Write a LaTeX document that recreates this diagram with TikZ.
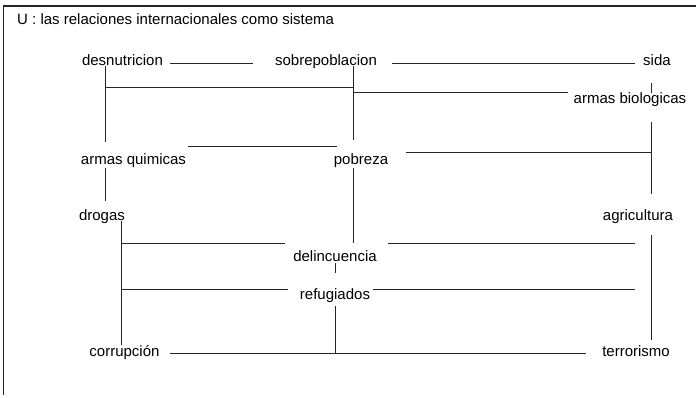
\documentclass[tikz,border=0pt]{standalone}
\usepackage{fontspec}
\setmainfont{Liberation Sans}
\usepackage{tikz}
\usetikzlibrary{calc}

\begin{document}
\begin{tikzpicture}[x=1pt, y=-1pt,
		lbl/.style={inner sep=0pt, anchor=base, font=\fontsize{15}{18}\selectfont},
		conn/.style={line width=0.9pt, color=black!85}]
			%%%%% START %%%%%
			
			\useasboundingbox (0, 0) rectangle (696, 398);
			
			\draw[line width=1.5pt, color=black!85] (3, 6) -- (696, 6);
			\draw[line width=1pt, color=black!85] (3, 6) -- (3, 395);
			
			\node[lbl, anchor=base west] (titulo) at (17, 25) {U : las relaciones internacionales como sistema};
			
			\node[lbl] (desnutricion) at (122.5, 66) {desnutricion};
			\node[lbl] (sobrepoblacion) at (326, 66) {sobrepoblacion};
			\node[lbl] (sida) at (657, 66) {sida};
			\node[lbl] (armasbiologicas) at (630, 104) {armas biologicas};
			\node[lbl] (armasquimicas) at (133.5, 165) {armas quimicas};
			\node[lbl] (pobreza) at (361, 165) {pobreza};
			\node[lbl] (drogas) at (102, 221) {drogas};
			\node[lbl] (agricultura) at (638, 221) {agricultura};
			\node[lbl] (delincuencia) at (335, 261) {delincuencia};
			\node[lbl] (refugiados) at (335, 299) {refugiados};
			\node[lbl] (corrupcion) at (124.5, 356) {corrupción};
			\node[lbl] (terrorismo) at (636, 356) {terrorismo};
			
			\coordinate (colA) at (105, 0);
			\coordinate (colB) at (121, 0);
			\coordinate (colC) at (353, 0);
			\coordinate (colD) at (651, 0);
			\coordinate (colE) at (335, 0);
			\coordinate (colF) at (635, 0);
			\coordinate (rowA) at (0, 87);
			\coordinate (rowB) at (0, 92);
			\coordinate (rowC) at (0, 146);
			\coordinate (rowD) at (0, 152);
			\coordinate (rowE) at (0, 243.5);
			\coordinate (rowF) at (0, 289);
			
			\draw[conn, shorten <=7pt, shorten >=22pt] (desnutricion.mid east) -- (sobrepoblacion.mid west);
			\draw[conn, shorten <=15pt, shorten >=8pt] (sobrepoblacion.mid east) -- (sida.mid west);
			
			\draw[conn, shorten >=12pt] (desnutricion.base -| colA) -- (armasquimicas.north -| colA);
			\draw[conn] (colA |- rowA) -- (colC |- rowA);
			\draw[conn, shorten >=14pt] (sobrepoblacion.base -| colC) -- (pobreza.north -| colC);
			\draw[conn] (colC |- rowB) -- ([xshift=-6pt]armasbiologicas.west |- rowB);
			
			\draw[conn, shorten <=17pt] (sida.south -| colD) -- (armasbiologicas.north -| colD);
			\draw[conn, shorten <=15pt, shorten >=16pt] (armasbiologicas.south -| colD) -- (agricultura.north -| colD);
			
			\draw[conn] ([xshift=2pt]armasquimicas.east |- rowC) -- ([xshift=3pt]pobreza.west |- rowC);
			\draw[conn] ([xshift=18pt]pobreza.east |- rowD) -- (colD |- rowD);
			\draw[conn, shorten <=3pt, shorten >=7pt] (pobreza.base -| colC) -- (delincuencia.north -| colC);
			
			\draw[conn, shorten <=3pt, shorten >=9pt] (armasquimicas.base -| colA) -- (drogas.north -| colA);
			\draw[conn] (drogas.base -| colB) -- (corrupcion.north -| colB);
			
			\draw[conn] (colB |- rowE) -- ([xshift=-8pt]delincuencia.west |- rowE);
			\draw[conn] ([xshift=11pt]delincuencia.east |- rowE) -- (colF |- rowE);
			\draw[conn] (colB |- rowF) -- ([xshift=-12pt]refugiados.west |- rowF);
			\draw[conn] ([xshift=3pt]refugiados.east |- rowF) -- (colF |- rowF);
			
			\draw[conn, shorten <=2pt, shorten >=15pt] (delincuencia.south -| colE) -- (refugiados.north -| colE);
			\draw[conn, shorten <=4pt] (refugiados.south -| colE) -- (corrupcion.mid east -| colE);
			\draw[conn, shorten <=10.5pt, shorten >=16pt] (corrupcion.mid east) -- (terrorismo.mid west);
			
			\draw[conn, shorten <=11pt, shorten >=5pt] (agricultura.south -| colD) -- (terrorismo.north -| colD);
			
			%%%%% END %%%%%
		\end{tikzpicture}
\end{document}
